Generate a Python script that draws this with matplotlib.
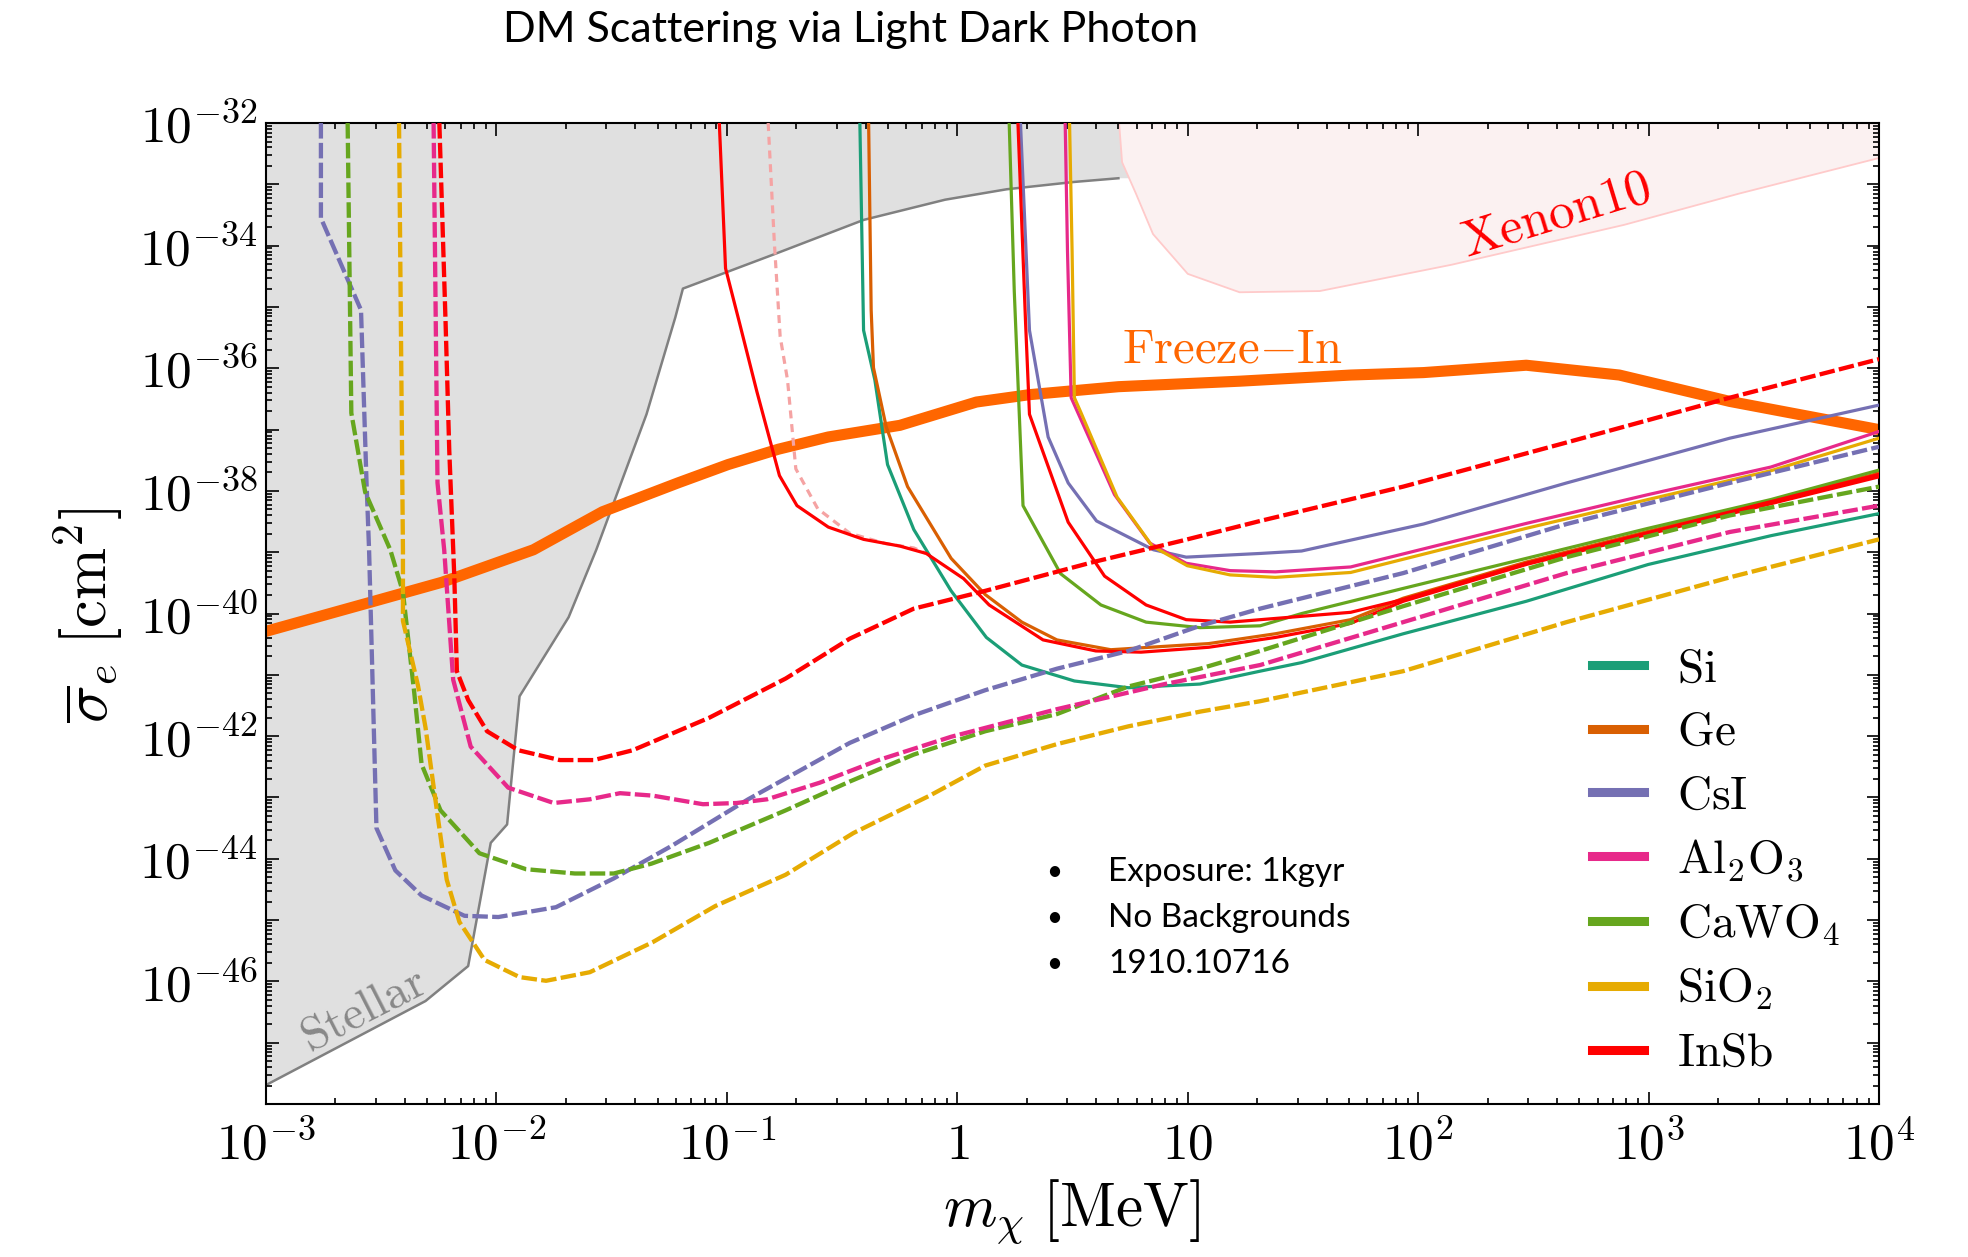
import numpy as np
import matplotlib.pyplot as plt
from matplotlib.lines import Line2D
from matplotlib.ticker import FixedLocator, FuncFormatter, NullFormatter

plt.rcParams['mathtext.fontset'] = 'cm'
plt.rcParams['font.family'] = 'DejaVu Serif'

# all curves as log10(m / MeV), log10(sigma / cm^2)
stellar_m = [-3.0, -2.308, -2.123, -2.025, -1.954, -1.900, -1.687, -1.567, -1.349, -1.224, -1.191,
             -1.0, -0.788, -0.407, -0.053, 0.214, 0.508, 0.699]
stellar_s = [-47.69, -46.32, -45.75, -43.74, -43.44, -41.35, -40.06, -38.96, -36.75, -35.17, -34.70,
             -34.43, -34.13, -33.58, -33.25, -33.08, -32.96, -32.90]

xenon_m = [0.702, 0.715, 0.775, 0.849, 1.0, 1.225, 1.573, 2.146, 2.894, 3.393, 4.0]
xenon_s = [-32.0, -32.64, -33.15, -33.81, -34.46, -34.76, -34.74, -34.31, -33.66, -33.15, -32.57]

freeze_m = [-3.0, -2.57, -2.237, -1.84, -1.54, -1.213, -0.995, -0.777, -0.56, -0.249, 0.083, 0.313,
            0.699, 1.227, 1.707, 2.023, 2.469, 2.873, 3.352, 4.0]
freeze_s = [-40.29, -39.84, -39.49, -38.96, -38.34, -37.87, -37.57, -37.32, -37.12, -36.93, -36.55,
            -36.43, -36.30, -36.21, -36.11, -36.07, -35.95, -36.11, -36.54, -37.00]

# solid lines
si_m = [-0.423, -0.407, -0.358, -0.303, -0.189, -0.027, 0.126, 0.280, 0.508, 0.742, 1.053, 1.314,
        1.494, 1.935, 2.469, 2.998, 3.531, 4.0]
si_s = [-32.0, -35.38, -36.19, -37.57, -38.63, -39.63, -40.39, -40.84, -41.10, -41.21, -41.15, -40.94,
        -40.80, -40.33, -39.80, -39.20, -38.73, -38.37]

ge_m = [-0.385, -0.374, -0.364, -0.309, -0.216, -0.027, 0.121, 0.280, 0.432, 0.666, 1.091, 1.380,
        1.707, 1.935, 2.469, 4.0]
ge_s = [-32.0, -35.05, -35.99, -36.95, -37.93, -39.10, -39.69, -40.14, -40.43, -40.59, -40.49, -40.33,
        -40.10, -39.75, -39.16, -37.71]

csi_m = [0.274, 0.313, 0.394, 0.481, 0.604, 0.851, 0.993, 1.314, 1.494, 2.023, 2.644, 3.352, 4.0]
csi_s = [-32.0, -35.38, -37.12, -37.87, -38.49, -38.96, -39.08, -39.02, -38.98, -38.54, -37.87,
         -37.14, -36.60]

al_m = [0.468, 0.478, 0.494, 0.519, 0.682, 0.835, 0.993, 1.184, 1.380, 1.707, 2.469, 2.998, 3.531, 4.0]
al_s = [-32.0, -34.09, -36.48, -36.69, -38.06, -38.85, -39.18, -39.30, -39.32, -39.24, -38.53,
        -38.06, -37.61, -37.03]

ca_m = [0.225, 0.247, 0.285, 0.448, 0.623, 0.819, 1.053, 1.314, 1.494, 1.935, 2.469, 2.998, 3.531, 4.0]
ca_s = [-32.0, -34.74, -38.24, -39.35, -39.86, -40.14, -40.23, -40.20, -40.00, -39.59, -39.10,
        -38.61, -38.14, -37.66]

sio2_m = [0.487, 0.498, 0.508, 0.535, 0.693, 0.846, 0.998, 1.184, 1.380, 1.707, 2.469, 2.998, 3.531, 4.0]
sio2_s = [-32.0, -34.09, -36.48, -36.71, -38.10, -38.90, -39.22, -39.37, -39.41, -39.33, -38.61,
          -38.14, -37.67, -37.14]

insb_m = [-1.033, -1.006, -0.946, -0.870, -0.772, -0.696, -0.560, -0.407, -0.249, -0.135, 0.027,
          0.138, 0.372, 0.601, 0.797, 1.091, 1.380, 1.707, 1.935, 2.469, 4.0]
insb_s = [-32.0, -34.37, -35.25, -36.38, -37.75, -38.24, -38.59, -38.79, -38.90, -39.02, -39.43,
          -39.86, -40.43, -40.61, -40.63, -40.55, -40.39, -40.16, -39.80, -39.20, -37.77]

insb2_m = [0.263, 0.296, 0.313, 0.481, 0.639, 0.819, 0.993, 1.184, 1.707, 1.935, 2.469, 4.0]
insb2_s = [-32.0, -35.25, -36.75, -38.51, -39.39, -39.86, -40.10, -40.14, -39.98, -39.77, -39.18, -37.73]

pale_m = [-0.821, -0.794, -0.769, -0.737, -0.701, -0.606, -0.467, -0.311, -0.189, -0.135]
pale_s = [-32.0, -33.96, -35.48, -36.19, -37.64, -38.29, -38.69, -38.86, -38.93, -39.02]

# dashed lines
insb_d_m = [-2.248, -2.221, -2.205, -2.183, -2.172, -2.123, -2.041, -1.905, -1.725, -1.578, -1.409,
            -1.077, -0.745, -0.467, -0.189, 0.121, 0.590, 0.977, 1.314, 1.935, 2.644, 3.352, 4.0]
insb_d_s = [-32.0, -35.25, -37.34, -39.41, -40.94, -41.41, -41.92, -42.23, -42.39, -42.39, -42.23,
            -41.70, -41.06, -40.41, -39.92, -39.63, -39.16, -38.81, -38.49, -37.93, -37.21, -36.48, -35.85]

al_d_m = [-2.273, -2.256, -2.227, -2.188, -2.112, -1.949, -1.752, -1.595, -1.464, -1.322, -1.104,
          -0.957, -0.826, -0.598, -0.342, -0.027, 0.432, 0.900, 1.314, 1.935, 2.644, 3.352, 4.0]
al_d_s = [-32.0, -37.87, -38.96, -41.08, -42.17, -42.84, -43.09, -43.03, -42.93, -42.97, -43.11,
          -43.09, -43.03, -42.76, -42.39, -42.01, -41.56, -41.15, -40.84, -40.14, -39.34, -38.67, -38.24]

csi_d_m = [-2.762, -2.762, -2.588, -2.564, -2.553, -2.521, -2.439, -2.325, -2.139, -1.992, -1.742,
           -1.491, -1.240, -0.908, -0.467, -0.189, 0.121, 0.432, 0.742, 1.053, 1.314, 1.935, 2.644,
           3.352, 4.0]
csi_d_s = [-32.0, -33.55, -35.05, -37.87, -38.96, -43.50, -44.19, -44.60, -44.93, -44.95, -44.79,
           -44.32, -43.79, -43.03, -42.11, -41.66, -41.25, -40.90, -40.61, -40.20, -39.92, -39.34,
           -38.54, -37.87, -37.28]

ca_d_m = [-2.646, -2.630, -2.570, -2.461, -2.406, -2.357, -2.325, -2.243, -2.074, -1.872, -1.660,
          -1.491, -1.328, -1.077, -0.745, -0.467, -0.189, 0.121, 0.432, 0.742, 1.053, 1.314, 1.935,
          2.644, 3.352, 4.0]
ca_d_s = [-32.0, -36.73, -38.02, -38.96, -39.65, -41.29, -42.46, -43.21, -43.91, -44.17, -44.24,
          -44.24, -44.08, -43.74, -43.21, -42.74, -42.30, -41.92, -41.64, -41.19, -40.90, -40.61,
          -39.88, -39.08, -38.40, -37.93]

sio2_d_m = [-2.423, -2.406, -2.406, -2.341, -2.308, -2.254, -2.216, -2.161, -2.052, -1.900, -1.785,
            -1.595, -1.322, -1.050, -0.745, -0.451, -0.120, 0.121, 0.432, 0.742, 1.053, 1.314, 1.935,
            2.644, 3.352, 4.0]
sio2_d_s = [-32.0, -38.96, -40.12, -41.17, -41.86, -43.34, -44.34, -45.03, -45.65, -45.93, -45.99,
            -45.85, -45.36, -44.77, -44.26, -43.58, -42.97, -42.48, -42.13, -41.84, -41.60, -41.43,
            -40.94, -40.14, -39.41, -38.79]

labels = ['Si', 'Ge', 'CsI', 'Al_2O_3', 'CaWO_4', 'SiO_2', 'InSb']
colors = ['#1B9E77', '#D95F02', '#7570B3', '#E7298A', '#66A61E', '#E6AB02', '#FF0000']
notes = ['Exposure: 1kgyr', 'No Backgrounds', '1910.10716']


def pw(a):
    return np.power(10.0, np.asarray(a))


fig = plt.figure(figsize=(19.68, 12.57), dpi=100)
ax = fig.add_axes([0.1352, 0.1217, 0.8196, 0.7804])

# excluded regions
ax.fill(pw(stellar_m + [0.75, 0.75, -3.0]), pw(stellar_s + [-32.9, -32.0, -32.0]),
        color='#E0E0E0', lw=0, zorder=1)
ax.plot(pw(stellar_m), pw(stellar_s), color='#808080', lw=1.8, zorder=1.2)
ax.fill(pw(xenon_m + [4.0]), pw(xenon_s + [-32.0]), color='#FBF1F1', lw=0, zorder=1.4)
ax.plot(pw(xenon_m), pw(xenon_s), color='#FFCACA', lw=1.3, zorder=1.5)

ax.plot(pw(freeze_m), pw(freeze_s), color='#FF6600', lw=8, zorder=2)

solid = [(si_m, si_s, 0), (ge_m, ge_s, 1), (csi_m, csi_s, 2), (al_m, al_s, 3),
         (ca_m, ca_s, 4), (sio2_m, sio2_s, 5), (insb_m, insb_s, 6), (insb2_m, insb2_s, 6)]
for m, s, i in solid:
    ax.plot(pw(m), pw(s), color=colors[i], lw=2.3, zorder=3)
ax.plot(pw(pale_m), pw(pale_s), color='#F5A3A3', lw=2.3, ls=(0, (2.5, 1.8)), zorder=2.8)

dashed = [(csi_d_m, csi_d_s, 2), (ca_d_m, ca_d_s, 4), (sio2_d_m, sio2_d_s, 5),
          (al_d_m, al_d_s, 3), (insb_d_m, insb_d_s, 6)]
for m, s, i in dashed:
    ax.plot(pw(m), pw(s), color=colors[i], lw=3.1, ls=(0, (3.6, 1.0)), zorder=3)

ax.set_xscale('log')
ax.set_yscale('log')
ax.set_xlim(1e-3, 1e4)
ax.set_ylim(1e-48, 1e-32)

xmaj = 10.0 ** np.arange(-3, 5)
ymaj = 10.0 ** np.arange(-48, -31)
ax.xaxis.set_major_locator(FixedLocator(xmaj))
ax.yaxis.set_major_locator(FixedLocator(ymaj))
ax.xaxis.set_minor_locator(FixedLocator([k * d for d in xmaj[:-1] for k in range(2, 10)]))
ax.yaxis.set_minor_locator(FixedLocator([k * d for d in ymaj[:-1] for k in range(2, 10)]))
ax.xaxis.set_minor_formatter(NullFormatter())
ax.yaxis.set_minor_formatter(NullFormatter())


def xfmt(v, pos):
    e = int(round(np.log10(v)))
    if e == 0:
        return r'$1$'
    if e == 1:
        return r'$10$'
    return r'$10^{%d}$' % e


def yfmt(v, pos):
    e = int(round(np.log10(v)))
    if e % 2 or e == -48:
        return ''
    return r'$10^{%d}$' % e


ax.xaxis.set_major_formatter(FuncFormatter(xfmt))
ax.yaxis.set_major_formatter(FuncFormatter(yfmt))
ax.tick_params(which='both', direction='in', top=True, right=True, width=1.2)
ax.tick_params(which='major', length=9, labelsize=37)
ax.tick_params(axis='x', which='major', pad=12)
ax.tick_params(axis='y', which='major', pad=6)
ax.tick_params(which='minor', length=4.5)
for sp in ax.spines.values():
    sp.set_linewidth(1.5)

ax.set_xlabel(r'$m_\chi\;[\mathrm{MeV}]$', fontsize=44)
ax.set_ylabel(r'$\overline{\sigma}_e\;[\mathrm{cm}^2]$', fontsize=45)
ax.xaxis.set_label_coords(0.499, -0.075)
ax.yaxis.set_label_coords(-0.087, 0.498)

ax.text(pw(1.195), pw(-35.68), r'$\mathrm{Freeze}{-}\mathrm{In}$', color='#FF6600', fontsize=35,
        ha='center', va='center', zorder=4)
ax.text(pw(2.60), pw(-33.51), r'$\mathrm{Xenon10}$', color='#FF0000', fontsize=37,
        rotation=17, ha='center', va='center', zorder=4)
ax.text(pw(-2.575), pw(-46.47), r'$\mathrm{Stellar}$', color='#888888', fontsize=34,
        rotation=27, ha='center', va='center', zorder=4)

handles = [Line2D([], [], color=c, lw=6.5) for c in colors]
fig.legend(handles, [r'$\mathrm{%s}$' % l for l in labels],
           loc='upper left', bbox_to_anchor=(0.809, 0.486), frameon=False, fontsize=34,
           handlelength=1.1, handletextpad=0.7, labelspacing=0.39, borderpad=0, borderaxespad=0)

fig.text(0.432, 0.976, 'DM Scattering via Light Dark Photon', family='Lato', fontsize=31,
         ha='center', va='center')
for k, t in enumerate(notes):
    y = 0.3063 - k * 0.0366
    fig.text(0.5356, y, '\u2022', family='Lato', fontsize=20, ha='center', va='center')
    fig.text(0.563, y, t, family='Lato', fontsize=24, ha='left', va='center')

fig.savefig('out.png', dpi=100)
